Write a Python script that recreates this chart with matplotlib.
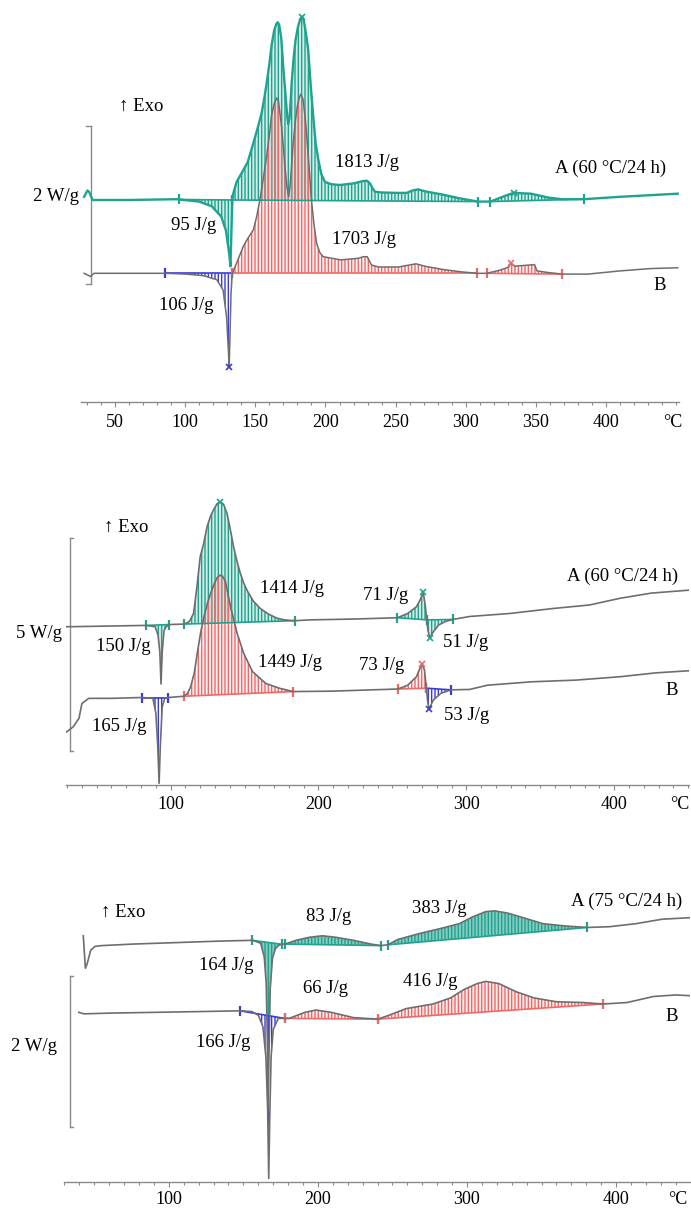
import numpy as np
import matplotlib
matplotlib.use('Agg')
import matplotlib.pyplot as plt
from matplotlib.ticker import MultipleLocator, FixedLocator

plt.rcParams['font.family'] = ['Liberation Serif', 'DejaVu Serif']
plt.rcParams['hatch.linewidth'] = 1.0

TEAL = '#1fa38f'
RED = '#f06868'
BLUE = '#3a3ad8'
GRAY = '#6e6e6e'
AXC = '#8a8a8a'

# ---------------- Panel 1 (heat flow, W/g) ----------------
p1_A_T = [28.0, 30.4, 31.7, 34.0, 60.0, 94.0, 110.0, 119.0, 125.7, 129.0, 131.4, 132.3, 133.6, 134.4,
          136.7, 141.5, 144.6, 148.6, 151.5, 154.5, 156.5, 158.1, 160.0, 161.6, 163.5, 165.0, 165.9,
          167.0, 168.5, 169.9, 171.0, 171.8, 172.8, 173.5, 174.5, 175.9, 177.3, 178.7, 180.5, 182.0,
          183.2, 184.5, 186.0, 187.7, 189.5, 191.3, 193.0, 194.9, 197.0, 199.6, 204.0, 210.3, 220.0,
          226.9, 229.5, 231.7, 233.5, 235.3, 240.0, 252.0, 257.8, 262.0, 266.1, 270.8, 283.0, 296.0,
          308.7, 317.5, 327.6, 334.0, 346.5, 359.0, 368.6, 384.0, 409.6, 451.0]
p1_A_Q = [0.04, 0.12, 0.10, 0.0, 0.0, 0.01, -0.02, -0.08, -0.21, -0.38, -0.68, -0.84, 0.0, 0.09,
          0.23, 0.38, 0.48, 0.72, 0.90, 1.10, 1.30, 1.48, 1.72, 1.96, 2.15, 2.23, 2.25,
          2.22, 2.05, 1.69, 1.45, 1.27, 1.05, 0.96, 1.05, 1.48, 1.80, 2.03, 2.20, 2.29,
          2.32, 2.28, 2.12, 1.90, 1.45, 1.05, 0.72, 0.51, 0.33, 0.23, 0.20, 0.19, 0.21,
          0.24, 0.245, 0.21, 0.15, 0.105, 0.095, 0.09, 0.09, 0.12, 0.135, 0.11, 0.07, 0.02,
          -0.02, -0.02, 0.05, 0.09, 0.08, 0.03, 0.01, 0.01, 0.04, 0.08]
p1_B_T = [28.0, 32.6, 35.0, 86.0, 100.5, 113.0, 122.5, 127.0, 129.5, 130.8, 131.4, 132.0, 132.7, 133.6,
          136.7, 141.4, 144.6, 148.6, 151.0, 153.3, 155.5, 158.1, 160.0, 161.6, 163.5, 165.2, 166.5,
          168.7, 170.0, 171.1, 172.5, 173.8, 175.0, 177.0, 178.5, 179.9, 181.2, 182.5, 184.0, 185.5,
          186.5, 188.3, 190.0, 191.8, 193.7, 196.0, 198.4, 211.0, 223.5, 226.9, 229.8, 232.8, 237.7,
          252.0, 264.5, 270.8, 283.0, 296.0, 308.0, 315.0, 324.4, 330.6, 332.0, 335.0, 349.0, 350.7,
          358.7, 368.8, 387.0, 409.6, 431.7, 451.0]
p1_B_Q = [0.0, -0.04, 0.0, 0.0, -0.01, -0.03, -0.08, -0.21, -0.55, -0.97, -1.18, -0.76, -0.25, 0.0,
          0.13, 0.34, 0.44, 0.55, 0.72, 0.93, 1.18, 1.48, 1.75, 2.00, 2.15, 2.22, 2.18,
          1.86, 1.60, 1.35, 1.10, 0.97, 1.15, 1.65, 1.92, 2.11, 2.22, 2.27, 2.20, 1.98,
          1.77, 1.35, 0.93, 0.62, 0.38, 0.26, 0.21, 0.17, 0.19, 0.21, 0.21, 0.105, 0.08,
          0.08, 0.12, 0.09, 0.05, 0.02, 0.0, 0.0, 0.04, 0.08, 0.13, 0.09, 0.11, 0.03,
          0.01, -0.01, -0.01, 0.03, 0.06, 0.07]
p1_A_endo = [(95.7, 133.6)]
p1_A_exo = [(133.6, 308.7), (317.5, 384.0)]
p1_B_endo = [(86.0, 133.6)]
p1_B_exo = [(133.6, 308.0), (315.0, 368.8)]
p1_labels = ['95 J/g', '1813 J/g', '1703 J/g', '106 J/g']

# ---------------- Panel 2 ----------------
p2_A_T = [29.6, 34.1, 83.5, 89.5, 91.5, 92.7, 93.5, 94.3, 95.5, 97.0, 99.0, 109.0, 111.5, 113.0, 115.5,
          117.8, 120.0, 122.3, 124.6, 127.0, 129.0, 131.5, 133.6, 135.8, 138.1, 140.3, 142.6, 144.8,
          147.1, 149.3, 151.6, 156.0, 160.6, 166.0, 171.9, 177.0, 183.9, 194.4, 224.4,
          253.4, 260.3, 266.3, 269.3, 270.8, 272.3, 273.2, 274.0, 275.3, 277.7, 281.3, 285.8, 290.9,
          302.3, 329.2, 359.2, 383.2, 404.2, 425.1, 450.6]
p2_A_Q = [0.0, 0.0, 0.03, 0.0, -0.20, -0.60, -1.35, -0.60, -0.10, 0.0, 0.05, 0.06, 0.10, 0.14, 0.31,
          0.94, 1.65, 1.95, 2.35, 2.60, 2.75, 2.90, 2.94, 2.88, 2.67, 2.30, 1.88, 1.55,
          1.26, 1.04, 0.86, 0.60, 0.43, 0.30, 0.20, 0.16, 0.14, 0.16, 0.18,
          0.21, 0.31, 0.47, 0.67, 0.82, 0.47, 0.16, -0.08, -0.27, -0.12, 0.04, 0.12, 0.17,
          0.24, 0.31, 0.43, 0.51, 0.67, 0.79, 0.86]
p2_B_T = [29.6, 34.1, 38.0, 40.0, 44.6, 59.5, 80.5, 88.0, 90.0, 91.3, 92.2, 93.0, 94.3, 96.0, 98.5,
          109.0, 111.5, 113.5, 116.0, 118.0, 120.3, 122.5, 125.0, 127.0, 129.5, 131.5, 133.3, 135.0,
          137.0, 140.5, 145.0, 149.4, 155.4, 164.4, 173.4, 183.0, 209.4, 253.7, 260.3, 266.3, 269.9,
          271.7, 272.9, 274.0, 274.9, 277.7, 282.8, 289.7, 302.3, 314.3, 344.2, 374.2, 404.2, 428.1,
          450.6]
p2_B_Q = [-0.79, -0.67, -0.47, -0.12, 0.0, 0.0, 0.02, 0.0, -0.35, -1.14, -2.0, -1.14, -0.20, 0.0, 0.02,
          0.05, 0.12, 0.27, 0.60, 1.06, 1.55, 1.92, 2.25, 2.47, 2.70, 2.84, 2.90, 2.88,
          2.76, 2.16, 1.53, 1.06, 0.63, 0.35, 0.24, 0.16, 0.17, 0.22, 0.31, 0.51, 0.82,
          0.67, 0.24, -0.12, -0.24, -0.04, 0.12, 0.20, 0.21, 0.31, 0.39, 0.43, 0.51, 0.60,
          0.65]
p2_A_endo = [(83.5, 99.0), (273.2, 290.9)]
p2_A_exo = [(109.0, 183.9), (253.4, 273.2)]
p2_B_endo = [(80.5, 98.5), (272.9, 289.7)]
p2_B_exo = [(109.0, 183.0), (253.7, 272.9)]
p2_labels = ['150 J/g', '1414 J/g', '71 J/g', '51 J/g', '165 J/g', '1449 J/g', '73 J/g', '53 J/g']

# ---------------- Panel 3 ----------------
p3_A_T = [42.6, 44.0, 45.2, 47.6, 50.5, 55.0, 75.7, 105.3, 134.9, 156.3, 161.6, 164.0, 165.3, 166.0,
          166.5, 167.2, 168.0, 169.5, 171.5, 173.5, 175.8, 177.9, 185.3, 194.2, 203.0, 212.0, 223.8,
          235.6, 242.1, 246.9, 253.4, 268.2, 283.0, 294.8, 303.7, 312.6, 318.5, 327.4, 339.3, 351.1,
          365.9, 380.7, 395.5, 413.3, 431.1, 450.3]
p3_A_Q = [0.10, -0.33, -0.27, -0.09, -0.04, -0.03, -0.01, 0.01, 0.03, 0.04, 0.0, -0.18, -0.53, -1.19,
          -2.21, -1.45, -0.60, -0.20, -0.07, -0.03, -0.01, -0.01, 0.04, 0.08, 0.10, 0.08, 0.04,
          -0.01, -0.03, -0.02, 0.05, 0.13, 0.20, 0.26, 0.35, 0.42, 0.43, 0.40, 0.33, 0.26,
          0.23, 0.21, 0.22, 0.26, 0.32, 0.34]
p3_B_T = [39.6, 43.1, 60.9, 90.5, 120.1, 148.3, 155.7, 160.1, 163.1, 165.1, 166.3, 167.0, 167.7, 168.6,
          170.0, 173.4, 177.9, 180.8, 191.2, 198.6, 209.0, 223.8, 240.1, 247.5, 259.3, 277.1, 288.9,
          297.8, 306.7, 312.6, 321.5, 333.3, 345.2, 360.0, 377.8, 391.1, 407.4, 425.1, 439.9, 450.3]
p3_B_Q = [0.0, -0.02, -0.01, 0.0, 0.01, 0.02, 0.01, -0.04, -0.19, -0.59, -1.30, -2.20, -1.38, -0.59,
          -0.23, -0.08, -0.08, -0.08, 0.0, 0.03, 0.0, -0.07, -0.09, -0.04, 0.05, 0.11, 0.19,
          0.30, 0.38, 0.41, 0.38, 0.27, 0.19, 0.14, 0.13, 0.11, 0.13, 0.21, 0.23, 0.22]
p3_A_endo = [(156.0, 175.6)]
p3_A_exo = [(177.9, 242.1), (246.9, 380.7)]
p3_B_endo = [(147.8, 177.6)]
p3_B_exo = [(177.6, 240.1), (240.1, 391.1)]
p3_labels = ['83 J/g', '383 J/g', '164 J/g', '66 J/g', '416 J/g', '166 J/g']

W, H = 691, 1208
fig = plt.figure(figsize=(W / 100, H / 100), dpi=100)
FS = 13.5


def make_ax(left_px, right_px, top_px, bottom_px, xlim, y0_px, ppu, majors, pad):
    ax = fig.add_axes([left_px / W, 1 - bottom_px / H, (right_px - left_px) / W, (bottom_px - top_px) / H])
    ax.set_xlim(*xlim)
    ax.set_ylim(-(bottom_px - y0_px) / ppu, (y0_px - top_px) / ppu)
    for s in ['top', 'right', 'left']:
        ax.spines[s].set_visible(False)
    ax.spines['bottom'].set_color(AXC)
    ax.spines['bottom'].set_linewidth(1.0)
    ax.set_yticks([])
    ax.xaxis.set_major_locator(FixedLocator(majors))
    ax.xaxis.set_minor_locator(MultipleLocator(10))
    ax.tick_params(axis='x', which='major', direction='out', length=3.5, width=0.8, color=AXC,
                   labelsize=13, pad=pad)
    ax.tick_params(axis='x', which='minor', direction='out', length=2.5, width=0.8, color=AXC)
    ax.patch.set_alpha(0)
    return ax


def region(ax, T, Q, off, t1, t2, color, tint=0.0):
    T = np.asarray(T)
    Q = np.asarray(Q) + off
    m = (T > t1) & (T < t2)
    ts = np.concatenate([[t1], T[m], [t2]])
    qs = np.concatenate([[np.interp(t1, T, Q)], Q[m], [np.interp(t2, T, Q)]])
    base = np.interp(ts, [t1, t2], [qs[0], qs[-1]])
    if tint > 0:
        ax.fill_between(ts, qs, base, facecolor=color, alpha=tint, linewidth=0, zorder=1.5)
    ax.fill_between(ts, qs, base, facecolor='none', edgecolor=color, hatch='|||||', linewidth=0, zorder=2)
    ax.plot([t1, t2], [qs[0], qs[-1]], color=color, lw=1.2, zorder=3)
    ax.plot([t1, t2], [qs[0], qs[-1]], ls='none', marker='|', ms=7, mew=1.6, color=color, zorder=4)


def curve(ax, T, Q, off, color, lw=1.2):
    ax.plot(T, np.asarray(Q) + off, color=color, lw=lw, zorder=5)


def peak_x(ax, T, Q, off, t, color):
    ax.plot([t], [np.interp(t, T, Q) + off], marker='x', ms=5, mew=1.2, color=color, zorder=6)


def scale_bar(ax, t, y1, y2, side):
    ax.plot([t, t], [y1, y2], color=AXC, lw=1.0, clip_on=False)
    ax.plot([t - side, t], [y1, y1], color=AXC, lw=1.0, clip_on=False)
    ax.plot([t - side, t], [y2, y2], color=AXC, lw=1.0, clip_on=False)


def deg_label(ax, t, pad_pt):
    ax.annotate('°C', xy=(t, 0), xycoords=('data', 'axes fraction'), xytext=(0, -3.5 - pad_pt),
                textcoords='offset points', ha='center', va='top', fontsize=13, annotation_clip=False)


def txt(ax, t, y, s, ha='center'):
    ax.text(t, y, s, fontsize=FS, ha=ha, va='center', clip_on=False)


# ===== Panel 1 =====
off1 = -0.928
ax1 = make_ax(81, 679, 0, 401.7, (25.8, 451.9), 200, 79.0, [50, 100, 150, 200, 250, 300, 350, 400], 5.5)
for a, b in p1_A_endo + p1_A_exo:
    region(ax1, p1_A_T, p1_A_Q, 0, a, b, TEAL, 0.2)
for a, b in p1_B_endo:
    region(ax1, p1_B_T, p1_B_Q, off1, a, b, BLUE)
for a, b in p1_B_exo:
    region(ax1, p1_B_T, p1_B_Q, off1, a, b, RED, 0.08)
curve(ax1, p1_B_T, p1_B_Q, off1, GRAY, 1.1)
curve(ax1, p1_A_T, p1_A_Q, 0, TEAL, 1.7)
peak_x(ax1, p1_A_T, p1_A_Q, 0, 183.2, TEAL)
peak_x(ax1, p1_A_T, p1_A_Q, 0, 334.0, TEAL)
peak_x(ax1, p1_B_T, p1_B_Q, off1, 131.4, BLUE)
peak_x(ax1, p1_B_T, p1_B_Q, off1, 332.0, RED)
scale_bar(ax1, 32.6, 0.937, -1.063, 3)
txt(ax1, 24.5, 0.04, '2 W/g', ha='right')
txt(ax1, 68.9, 1.19, '↑ Exo')
txt(ax1, 106.2, -0.32, p1_labels[0])
txt(ax1, 229.8, 0.48, p1_labels[1])
txt(ax1, 227.3, -0.50, p1_labels[2])
txt(ax1, 100.5, -1.33, p1_labels[3])
txt(ax1, 403.3, 0.40, 'A (60 °C/24 h)')
txt(ax1, 438.0, -1.08, 'B')
deg_label(ax1, 447.5, 5.5)

# ===== Panel 2 =====
off2 = -1.688
ax2 = make_ax(66.4, 689, 430, 785, (29.5, 450.6), 626.67, 42.47, [100, 200, 300, 400], 4.5)
for a, b in p2_A_endo + p2_A_exo:
    region(ax2, p2_A_T, p2_A_Q, 0, a, b, TEAL, 0.2)
for a, b in p2_B_endo:
    region(ax2, p2_B_T, p2_B_Q, off2, a, b, BLUE)
for a, b in p2_B_exo:
    region(ax2, p2_B_T, p2_B_Q, off2, a, b, RED, 0.08)
curve(ax2, p2_A_T, p2_A_Q, 0, GRAY)
curve(ax2, p2_B_T, p2_B_Q, off2, GRAY)
peak_x(ax2, p2_A_T, p2_A_Q, 0, 133.6, TEAL)
peak_x(ax2, p2_A_T, p2_A_Q, 0, 270.8, TEAL)
peak_x(ax2, p2_A_T, p2_A_Q, 0, 275.3, TEAL)
peak_x(ax2, p2_B_T, p2_B_Q, off2, 269.9, RED)
peak_x(ax2, p2_B_T, p2_B_Q, off2, 274.9, BLUE)
scale_bar(ax2, 32.0, 2.08, -2.92, -2)
txt(ax2, 26.5, -0.17, '5 W/g', ha='right')
txt(ax2, 70.0, 2.34, '↑ Exo')
txt(ax2, 67.9, -0.47, p2_labels[0])
txt(ax2, 182.4, 0.90, p2_labels[1])
txt(ax2, 245.3, 0.73, p2_labels[2])
txt(ax2, 299.3, -0.38, p2_labels[3])
txt(ax2, 65.5, -2.34, p2_labels[4])
txt(ax2, 180.9, -0.85, p2_labels[5])
txt(ax2, 242.9, -0.92, p2_labels[6])
txt(ax2, 299.9, -2.08, p2_labels[7])
txt(ax2, 405.7, 1.18, 'A (60 °C/24 h)')
txt(ax2, 438.6, -1.51, 'B')
deg_label(ax2, 444.6, 4.5)

# ===== Panel 3 =====
off3 = -0.914
ax3 = make_ax(64.2, 690, 860, 1181.7, (29.8, 449.6), 943.33, 75.5, [100, 200, 300, 400], 3.5)
for a, b in p3_A_endo + p3_A_exo:
    region(ax3, p3_A_T, p3_A_Q, 0, a, b, TEAL, 0.55)
for a, b in p3_B_endo:
    region(ax3, p3_B_T, p3_B_Q, off3, a, b, BLUE)
for a, b in p3_B_exo:
    region(ax3, p3_B_T, p3_B_Q, off3, a, b, RED, 0.1)
curve(ax3, p3_A_T, p3_A_Q, 0, GRAY)
curve(ax3, p3_B_T, p3_B_Q, off3, GRAY)
scale_bar(ax3, 33.7, -0.428, -2.428, -2)
txt(ax3, 24.8, -1.369, '2 W/g', ha='right')
txt(ax3, 69.2, 0.415, '↑ Exo')
txt(ax3, 207.5, 0.353, p3_labels[0])
txt(ax3, 281.5, 0.464, p3_labels[1])
txt(ax3, 138.8, -0.30, p3_labels[2])
txt(ax3, 205.4, -0.596, p3_labels[3])
txt(ax3, 275.6, -0.499, p3_labels[4])
txt(ax3, 136.4, -1.316, p3_labels[5])
txt(ax3, 406.8, 0.552, 'A (75 °C/24 h)')
txt(ax3, 437.6, -0.971, 'B')
deg_label(ax3, 441.4, 3.5)

fig.savefig('out.png', dpi=100)
